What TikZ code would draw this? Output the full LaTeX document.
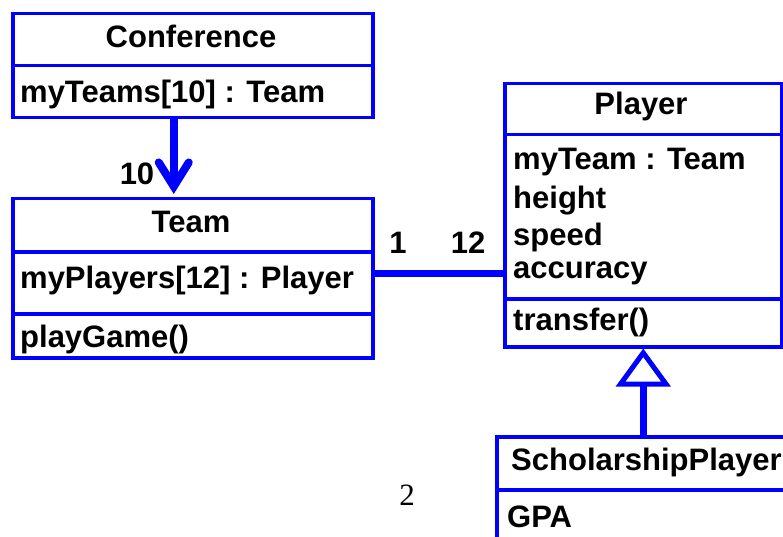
\documentclass[tikz,border=0pt]{standalone}
\usepackage{fontspec}
\setmainfont{Liberation Sans}
\newfontfamily\pagefont{Liberation Serif}
\usetikzlibrary{arrows.meta}
\definecolor{umlblue}{RGB}{0,0,255}

\begin{document}
\begin{tikzpicture}[x=1pt,y=-1pt,
  box/.style={draw=umlblue,line width=3.5pt,rectangle,inner sep=0pt,anchor=north west},
  txt/.style={font=\fontsize{31}{36}\selectfont\bfseries,inner sep=0pt},
  link/.style={draw=umlblue,line width=7pt}]
\clip (0,0) rectangle (783,537);
% class boxes
\node[box,minimum width=360pt,minimum height=52pt] (confname) at (11,12) {};
\node[box,minimum width=360pt,minimum height=52pt] (confattr) at (11,64) {};
\node[box,minimum width=360pt,minimum height=53pt] (teamname) at (11,197) {};
\node[box,minimum width=360pt,minimum height=62pt] (teamattr) at (11,250) {};
\node[box,minimum width=360pt,minimum height=44pt] (teamops) at (11,312) {};
\node[box,minimum width=277pt,minimum height=51pt] (playername) at (503,82) {};
\node[box,minimum width=277pt,minimum height=164pt] (playerattr) at (503,133) {};
\node[box,minimum width=277pt,minimum height=48pt] (playerops) at (503,297) {};
\node[box,minimum width=300pt,minimum height=53pt] (scholname) at (495,435) {};
\node[box,minimum width=300pt,minimum height=80pt] (scholattr) at (495,488) {};
% texts
\node[txt,anchor=base] (conftitle) at (191,48) {Conference};
\node[txt,anchor=base west] (confteams) at (20,103) {myTeams[10] : Team};
\node[txt,anchor=base] (teamtitle) at (191,232) {Team};
\node[txt,anchor=base west] (teamplayers) at (20,288) {myPlayers[12] : Player};
\node[txt,anchor=base west] (teamplay) at (20,347) {playGame()};
\node[txt,anchor=base] (playertitle) at (641,115) {Player};
\node[txt,anchor=base west] (playerteam) at (513,170) {myTeam : Team};
\node[txt,anchor=base west] (playerheight) at (513,208) {height};
\node[txt,anchor=base west] (playerspeed) at (513,245) {speed};
\node[txt,anchor=base west] (playeracc) at (513,278) {accuracy};
\node[txt,anchor=base west] (playertransfer) at (513,330) {transfer()};
\node[txt,anchor=base west] (scholtitle) at (511,470) {ScholarshipPlayer};
\node[txt,anchor=base west] (scholgpa) at (507,527) {GPA};
% multiplicities
\node[txt,anchor=base] (mten) at (137,185) {10};
\node[txt,anchor=base] (mone) at (398,253) {1};
\node[txt,anchor=base] (mtwelve) at (468,253) {12};
\node[inner sep=0pt,anchor=base,font=\pagefont\fontsize{31}{36}\selectfont] (pagenum) at (407,505) {2};
% connectors
\coordinate (assoc) at (0,273);
\draw[link,line width=8pt,-{Straight Barb[length=24pt,width=30pt,line cap=round]},shorten >=3pt]
  ([xshift=-19pt]confattr.south) -- ([xshift=-19pt]teamname.north);
\draw[link] (teamattr.east |- assoc) -- (playerattr.west |- assoc);
\draw[link,-{Triangle[open,length=38pt,width=54pt,line width=5pt]}]
  (scholname.north -| playerops.south) -- (playerops.south);
\end{tikzpicture}
\end{document}
